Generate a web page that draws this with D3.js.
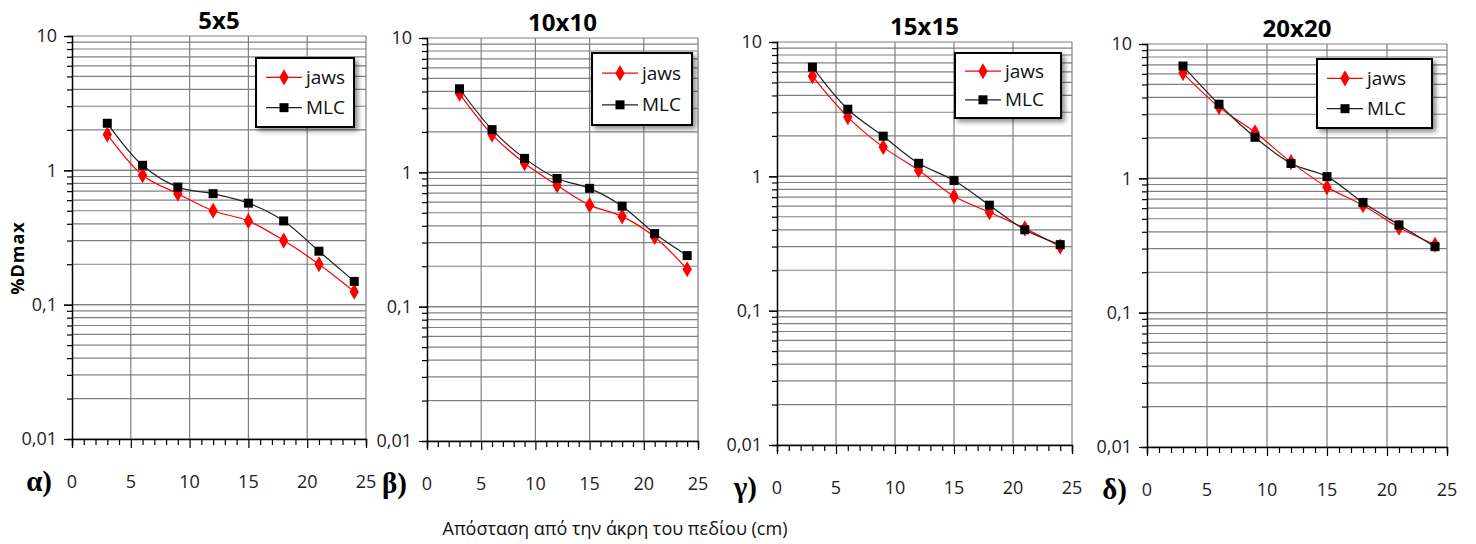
<html>
<head>
<meta charset="utf-8">
<title>%Dmax</title>
<script src="https://d3js.org/d3.v7.min.js"></script>
<style>
  body { margin: 0; background: #fff; }
  text { font-family: "Open Sans", "Liberation Sans", sans-serif; }
</style>
</head>
<body>
<script>
// distance from field edge (cm)
var distances = [3, 6, 9, 12, 15, 18, 21, 24];
var fieldNames = ["5x5", "10x10", "15x15", "20x20"];
var panelLetters = ["α)", "β)", "γ)", "δ)"];
var seriesNames = ["jaws", "MLC"];

var jaws5  = [1.85, 0.92, 0.67, 0.50, 0.42, 0.30, 0.20, 0.125];
var mlc5   = [2.24, 1.09, 0.75, 0.67, 0.57, 0.42, 0.25, 0.149];
var jaws10 = [3.85, 1.91, 1.17, 0.80, 0.57, 0.47, 0.33, 0.19];
var mlc10  = [4.19, 2.08, 1.27, 0.90, 0.76, 0.56, 0.35, 0.24];
var jaws15 = [5.56, 2.76, 1.65, 1.11, 0.71, 0.54, 0.41, 0.30];
var mlc15  = [6.50, 3.16, 1.99, 1.25, 0.93, 0.61, 0.40, 0.31];
var jaws20 = [6.07, 3.39, 2.20, 1.32, 0.86, 0.63, 0.43, 0.32];
var mlc20  = [6.85, 3.56, 2.02, 1.29, 1.03, 0.66, 0.45, 0.31];

var jawsAll = [jaws5, jaws10, jaws15, jaws20];
var mlcAll  = [mlc5, mlc10, mlc15, mlc20];

var xTicks = [0, 5, 10, 15, 20, 25];
var yTicks = [0.01, 0.1, 1, 10];
var yLabels = ["0,01", "0,1", "1", "10"];

var width = 1476, height = 544;

// panel frames: left, right, top, bottom, legend box
var frames = [
  {l: 72,   r: 366,  t: 36, b: 439, leg: [256, 58, 98, 69]},
  {l: 427,  r: 698,  t: 38, b: 441, leg: [592, 53, 100, 72]},
  {l: 777,  r: 1072, t: 42, b: 445, leg: [955, 53, 106, 65]},
  {l: 1147, r: 1447, t: 44, b: 447, leg: [1317, 59, 115, 69]}
];

var svg = d3.select("body").append("svg")
  .attr("width", width)
  .attr("height", height);

var defs = svg.append("defs");
var f = defs.append("filter").attr("id", "shadow")
  .attr("x", "-20%").attr("y", "-20%").attr("width", "150%").attr("height", "150%");
f.append("feDropShadow").attr("dx", 3).attr("dy", 3).attr("stdDeviation", 2.5)
  .attr("flood-color", "#000").attr("flood-opacity", 0.45);

// minor log values for gridlines
var minorVals = [];
[0.01, 0.1, 1].forEach(function(d) {
  for (var k = 1; k <= 10; k++) minorVals.push(+(d * k).toPrecision(3));
});

frames.forEach(function(fr, i) {
  var x = d3.scaleLinear().domain([0, 25]).range([fr.l, fr.r]);
  var y = d3.scaleLog().domain([0.01, 10]).range([fr.b, fr.t]);
  var g = svg.append("g");

  // horizontal gridlines
  g.selectAll(".hg").data(minorVals).enter().append("line")
    .attr("x1", fr.l).attr("x2", fr.r)
    .attr("y1", function(d) { return y(d); })
    .attr("y2", function(d) { return y(d); })
    .attr("stroke", "#808080").attr("stroke-width", 1.2);

  // vertical gridlines
  g.selectAll(".vg").data(xTicks.slice(1)).enter().append("line")
    .attr("x1", function(d) { return x(d); })
    .attr("x2", function(d) { return x(d); })
    .attr("y1", fr.t).attr("y2", fr.b)
    .attr("stroke", "#808080").attr("stroke-width", 1.2);

  // left axis with minor ticks
  var yAxis = d3.axisLeft(y).tickValues(minorVals).tickSize(5).tickFormat("");
  g.append("g").attr("transform", "translate(" + fr.l + ",0)").call(yAxis)
    .call(function(s) {
      s.select(".domain").attr("stroke", "#000").attr("stroke-width", 1.5);
      s.selectAll(".tick line").attr("stroke", "#000").attr("stroke-width", 1.2)
        .attr("x2", function(d) { return yTicks.indexOf(d) >= 0 ? -8 : -5; });
    });
  g.selectAll(".ylab").data(yTicks).enter().append("text")
    .attr("x", fr.l - 15)
    .attr("y", function(d) { return y(d); })
    .attr("dy", "0.35em")
    .attr("text-anchor", "end")
    .attr("font-size", 18)
    .attr("fill", "#222")
    .text(function(d, j) { return yLabels[j]; });

  // bottom axis, tick every 1 cm
  var xAxis = d3.axisBottom(x).tickValues(d3.range(0, 26)).tickSize(7).tickFormat("");
  g.append("g").attr("transform", "translate(0," + fr.b + ")").call(xAxis)
    .call(function(s) {
      s.select(".domain").attr("stroke", "#000").attr("stroke-width", 1.5);
      s.selectAll(".tick line").attr("stroke", "#000").attr("stroke-width", 1.2)
        .attr("y2", function(d) { return d % 5 === 0 ? 9 : 6; });
    });
  g.selectAll(".xlab").data(xTicks).enter().append("text")
    .attr("x", function(d) { return x(d); })
    .attr("y", fr.b + 49)
    .attr("text-anchor", "middle")
    .attr("font-size", 18)
    .attr("fill", "#222")
    .text(function(d) { return d; });

  // panel letter
  g.append("text")
    .attr("x", fr.l - 20)
    .attr("y", fr.b + 52)
    .attr("text-anchor", "end")
    .attr("font-size", 29)
    .attr("font-weight", "bold")
    .style("font-family", "'Liberation Serif', 'DejaVu Serif', serif")
    .text(panelLetters[i]);

  // title
  g.append("text")
    .attr("x", (fr.l + fr.r) / 2)
    .attr("y", fr.t - 7)
    .attr("text-anchor", "middle")
    .attr("font-size", 24)
    .attr("font-weight", "bold")
    .text(fieldNames[i]);

  // series
  var line = d3.line()
    .x(function(d) { return x(d[0]); })
    .y(function(d) { return y(d[1]); })
    .curve(d3.curveCatmullRom.alpha(0.5));

  var jaws = d3.zip(distances, jawsAll[i]);
  var mlc = d3.zip(distances, mlcAll[i]);

  g.append("path").datum(jaws).attr("d", line)
    .attr("fill", "none").attr("stroke", "#ff0000").attr("stroke-width", 1.2);
  g.append("path").datum(mlc).attr("d", line)
    .attr("fill", "none").attr("stroke", "#222").attr("stroke-width", 1.2);

  var diamond = d3.symbol().type(d3.symbolDiamond).size(75);
  g.selectAll(".jm").data(jaws).enter().append("path")
    .attr("d", diamond)
    .attr("transform", function(d) { return "translate(" + x(d[0]) + "," + y(d[1]) + ")"; })
    .attr("fill", "#ff0000");
  g.selectAll(".mm").data(mlc).enter().append("rect")
    .attr("x", function(d) { return x(d[0]) - 4.5; })
    .attr("y", function(d) { return y(d[1]) - 4.5; })
    .attr("width", 9).attr("height", 9)
    .attr("fill", "#000");

  // legend
  var lg = g.append("g").attr("transform", "translate(" + fr.leg[0] + "," + fr.leg[1] + ")");
  var lw = fr.leg[2], lh = fr.leg[3];
  lg.append("rect").attr("width", lw).attr("height", lh)
    .attr("fill", "#fff").attr("stroke", "#000").attr("stroke-width", 2)
    .attr("filter", "url(#shadow)");
  var rows = [lh * 0.28, lh * 0.72];
  seriesNames.forEach(function(name, j) {
    var ly = rows[j];
    lg.append("line").attr("x1", 10).attr("x2", 46).attr("y1", ly).attr("y2", ly)
      .attr("stroke", j === 0 ? "#ff0000" : "#222").attr("stroke-width", 1.2);
    if (j === 0) {
      lg.append("path").attr("d", diamond).attr("transform", "translate(28," + ly + ")").attr("fill", "#ff0000");
    } else {
      lg.append("rect").attr("x", 23.5).attr("y", ly - 4.5).attr("width", 9).attr("height", 9).attr("fill", "#000");
    }
    lg.append("text").attr("x", 50).attr("y", ly).attr("dy", "0.35em")
      .attr("font-size", 19).attr("fill", "#111").text(name);
  });
});

// y axis title
svg.append("text")
  .attr("transform", "translate(24,258) rotate(-90)")
  .attr("text-anchor", "middle")
  .attr("font-size", 18)
  .attr("font-weight", "bold")
  .attr("letter-spacing", 1)
  .text("%Dmax");

// x axis title
svg.append("text")
  .attr("x", 615)
  .attr("y", 535)
  .attr("text-anchor", "middle")
  .attr("font-size", 18)
  .attr("fill", "#111")
  .text("Απόσταση από την άκρη του πεδίου (cm)");
</script>
</body>
</html>
